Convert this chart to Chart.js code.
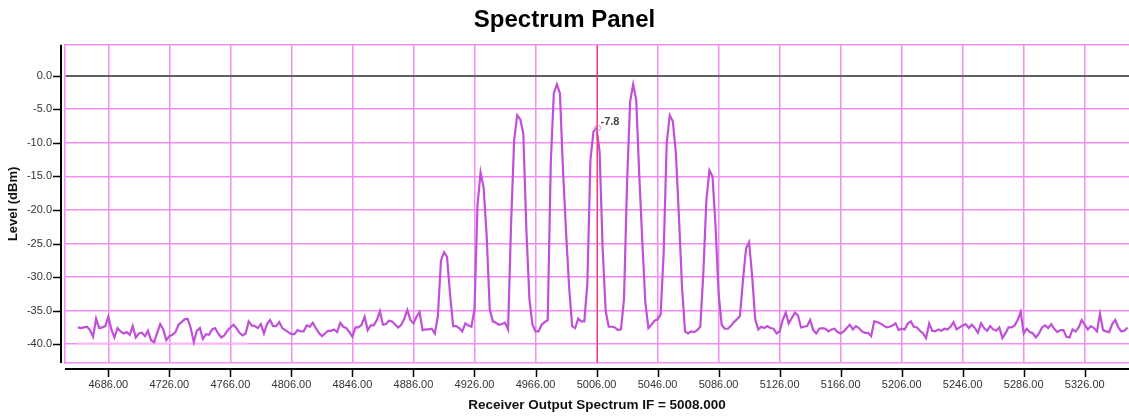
<!DOCTYPE html>
<html>
<head>
<meta charset="utf-8">
<script src="https://cdn.jsdelivr.net/npm/chart.js@4.4.1/dist/chart.umd.min.js"></script>
<style>
  html, body { margin: 0; padding: 0; background: #fff; }
  #wrap { width: 1129px; height: 417px; }
</style>
</head>
<body>
<div id="wrap"><canvas id="spectrumChart" width="1129" height="417"></canvas></div>
<script>
// sweep: first frequency and step of the analyser
const startFreq = 4666;
const freqStep = 2;

// levels in dBm
const levels = [
  -37.5, -37.6, -37.5, -37.4, -37.9, -38.9, -36.2, -37.6, -37.5, -37.3,
  -35.9, -37.8, -39.0, -37.6, -38.1, -38.4, -38.2, -38.6, -37.3, -39.0,
  -38.4, -38.3, -38.8, -38.0, -39.4, -39.7, -38.3, -37.0, -37.8, -39.4,
  -38.8, -38.6, -38.2, -37.1, -36.7, -36.3, -36.2, -37.6, -39.7, -38.0,
  -37.6, -39.2, -38.5, -38.6, -37.8, -37.6, -38.4, -39.0, -38.7, -38.0,
  -37.5, -37.1, -37.6, -38.3, -38.7, -38.4, -36.6, -37.2, -37.3, -37.6,
  -37.0, -38.4, -37.0, -36.4, -37.3, -37.3, -36.7, -37.6, -37.9, -38.2,
  -38.5, -38.5, -37.9, -38.1, -38.1, -37.2, -37.4, -36.8, -37.6, -38.3,
  -38.8, -38.4, -38.0, -38.0, -37.8, -38.2,
  -36.8, -37.4, -37.6, -38.2, -38.9, -37.5, -37.5, -37.1, -35.9, -37.9,
  -37.2, -37.2, -36.4, -35.1, -37.1, -37.0, -36.5, -36.6, -37.1, -37.5,
  -37.1, -36.2, -34.9, -36.4, -36.9, -35.9, -35.2, -37.9, -37.8, -37.8,
  -37.7, -38.4, -35.8, -27.6, -26.3, -27.0, -32.6, -37.3, -37.3, -37.6,
  -38.1, -36.9, -37.2, -37.4, -34.8, -19.2, -14.4, -16.7, -23.9, -34.8,
  -36.6, -36.8, -37.1, -37.0, -36.8, -37.8, -22.0, -9.6, -5.9, -6.5,
  -8.6, -22.9, -33.3, -37.1, -38.1, -38.1, -37.1, -36.7, -36.4, -13.0,
  -2.6, -1.3, -2.6, -14.0, -23.2, -31.4, -37.3, -37.6, -36.2, -36.6,
  -36.6, -30.9, -12.5, -8.3, -7.8,
  -11.3, -25.7, -35.1, -37.4, -37.4, -37.5, -37.9, -37.8, -33.3, -16.0,
  -3.9, -1.3, -3.6, -14.8, -24.7, -33.8, -37.6, -37.1, -36.5, -36.3,
  -35.6, -26.4, -10.0, -5.9, -6.8, -11.5, -21.0, -31.4, -38.1, -38.4,
  -38.1, -38.2, -37.9, -37.4, -29.4, -18.5, -14.1, -15.0, -22.4, -32.4,
  -37.1, -37.7, -37.7, -37.3, -36.7, -36.3, -35.8, -30.4, -25.7, -24.8,
  -29.9, -36.3, -37.8, -37.4, -37.6, -37.3, -37.6, -37.7, -38.4, -38.1,
  -36.4, -35.3, -36.9, -36.1, -35.3, -35.7, -37.5, -37.4, -37.3, -36.4,
  -37.9, -38.4, -37.7, -37.6, -37.7, -38.1, -37.8, -37.7, -38.2, -38.4,
  -38.1, -37.6, -37.1, -37.8, -37.3, -37.6, -38.1, -38.3,
  -38.3, -38.8, -36.6, -36.7, -36.9, -37.2, -37.5, -37.4, -37.2, -36.9,
  -37.9, -37.7, -37.8, -36.9, -36.6, -37.4, -37.5, -38.0, -38.4, -39.1,
  -36.9, -38.0, -38.1, -37.8, -38.0, -37.7, -37.8, -37.4, -36.7, -37.8,
  -37.5, -37.2, -37.0, -37.6, -37.1, -37.6, -38.3, -36.9, -37.6, -38.0,
  -37.3, -37.8, -38.0, -37.5, -39.1, -38.4, -37.5, -37.5, -37.2, -36.4,
  -35.2, -38.4, -37.7, -38.2, -38.4, -39.0, -38.4, -37.5, -37.2, -37.6,
  -37.0, -37.7, -38.2, -37.9, -37.9, -38.9, -39.0, -37.8, -38.1, -37.5,
  -36.4, -37.1, -37.8, -37.3, -37.6, -38.1, -35.5, -37.9, -38.1, -38.2,
  -37.0, -36.4, -37.5, -38.1, -38.0, -37.5
];

// faint reference segment near the bottom left
const floorFreqs = [4666, 4778];
const floorLevels = [-39.85, -39.85];

const xTicks = [4686, 4726, 4766, 4806, 4846, 4886, 4926, 4966, 5006, 5046, 5086, 5126, 5166, 5206, 5246, 5286, 5326];
const yTicks = [0, -5, -10, -15, -20, -25, -30, -35, -40];

// cursor
const markerFreq = 5006;
const markerLevel = -7.8;

const xMin = 4657.6, xMax = 5355;
const yMin = -42.8, yMax = 4.6;

const gridPink = '#f48cf4';
const FONT = "'Liberation Sans', Arial, sans-serif";
Chart.defaults.font.family = FONT;

const sweep = levels.map((v, i) => ({ x: startFreq + i * freqStep, y: v }));
const floorLine = floorFreqs.map((f, i) => ({ x: f, y: floorLevels[i] }));

// top edge of the plot + offset black axes with their tick marks
const frameAxes = {
  id: 'frameAxes',
  afterDraw(chart) {
    const { ctx, chartArea: a, scales } = chart;
    ctx.save();
    ctx.strokeStyle = gridPink;
    ctx.lineWidth = 1.5;
    ctx.beginPath();
    ctx.moveTo(a.left, a.top);
    ctx.lineTo(a.right, a.top);
    ctx.stroke();

    ctx.strokeStyle = '#000';
    ctx.lineWidth = 2;
    const ax = a.bottom + 6;
    ctx.beginPath();
    ctx.moveTo(a.left, ax);
    ctx.lineTo(a.right, ax);
    const ay = a.left - 4;
    ctx.moveTo(ay, a.top);
    ctx.lineTo(ay, a.bottom);
    ctx.stroke();

    ctx.lineWidth = 1.5;
    ctx.beginPath();
    xTicks.forEach(t => {
      const px = Math.round(scales.x.getPixelForValue(t)) + 0.5;
      ctx.moveTo(px, ax);
      ctx.lineTo(px, ax + 8);
    });
    yTicks.forEach(t => {
      const py = Math.round(scales.y.getPixelForValue(t)) + 0.5;
      ctx.moveTo(ay, py);
      ctx.lineTo(ay - 8, py);
    });
    ctx.stroke();
    ctx.restore();
  }
};

// red cursor line with marker and value
const cursor = {
  id: 'cursor',
  afterDatasetsDraw(chart) {
    const { ctx, chartArea: a, scales } = chart;
    const px = Math.round(scales.x.getPixelForValue(markerFreq)) + 0.5;
    const py = scales.y.getPixelForValue(markerLevel);
    ctx.save();
    ctx.strokeStyle = '#ff4040';
    ctx.lineWidth = 1;
    ctx.beginPath();
    ctx.moveTo(px, a.top);
    ctx.lineTo(px, a.bottom);
    ctx.stroke();

    ctx.strokeStyle = '#d890e6';
    ctx.beginPath();
    ctx.arc(px, py, 3, 0, Math.PI * 2);
    ctx.stroke();

    ctx.fillStyle = '#444';
    ctx.font = 'bold 11px ' + FONT;
    ctx.textAlign = 'left';
    ctx.textBaseline = 'middle';
    ctx.fillText(markerLevel.toFixed(1), px + 3, py - 6);
    ctx.restore();
  }
};

new Chart(document.getElementById('spectrumChart'), {
  type: 'line',
  data: {
    datasets: [
      {
        label: 'Spectrum',
        data: sweep,
        borderColor: '#c050d8',
        borderWidth: 2.2,
        pointRadius: 0,
        tension: 0,
        fill: false
      },
      {
        label: 'Floor',
        data: floorLine,
        borderColor: '#f9b6f9',
        borderWidth: 1.5,
        pointRadius: 0,
        fill: false
      }
    ]
  },
  options: {
    responsive: false,
    devicePixelRatio: 1,
    animation: false,
    layout: { padding: 0 },
    plugins: {
      legend: { display: false },
      tooltip: { enabled: false },
      title: {
        display: true,
        text: 'Spectrum Panel',
        color: '#000',
        font: { size: 24, weight: 'bold' },
        padding: { top: 6, bottom: 10 }
      }
    },
    scales: {
      x: {
        type: 'linear',
        min: xMin,
        max: xMax,
        afterBuildTicks: s => { s.ticks = xTicks.map(v => ({ value: v })); },
        afterFit: s => { s.height = 54; },
        grid: { color: gridPink, lineWidth: 1.5, drawTicks: false },
        border: { display: true, color: gridPink, width: 1.5 },
        ticks: {
          color: '#333',
          font: { size: 11 },
          padding: 15,
          maxRotation: 0,
          autoSkip: false,
          callback: v => Number(v).toFixed(2)
        },
        title: {
          display: true,
          text: 'Receiver Output Spectrum IF = 5008.000',
          color: '#111',
          font: { size: 13.5, weight: 'bold' },
          padding: { top: 4, bottom: 4 }
        }
      },
      y: {
        min: yMin,
        max: yMax,
        afterBuildTicks: s => { s.ticks = yTicks.map(v => ({ value: v })); },
        afterFit: s => { s.width = 65; },
        grid: {
          color: c => (c.tick && c.tick.value === 0 ? '#606060' : gridPink),
          lineWidth: c => (c.tick && c.tick.value === 0 ? 2 : 1.5),
          drawTicks: false
        },
        border: { display: true, color: gridPink, width: 1.5 },
        ticks: {
          color: '#333',
          font: { size: 11 },
          padding: 13,
          callback: v => Number(v).toFixed(1)
        },
        title: {
          display: true,
          text: 'Level (dBm)',
          color: '#111',
          font: { size: 13, weight: 'bold' },
          padding: { top: 6, bottom: 4 }
        }
      }
    }
  },
  plugins: [frameAxes, cursor]
});
</script>
</body>
</html>
